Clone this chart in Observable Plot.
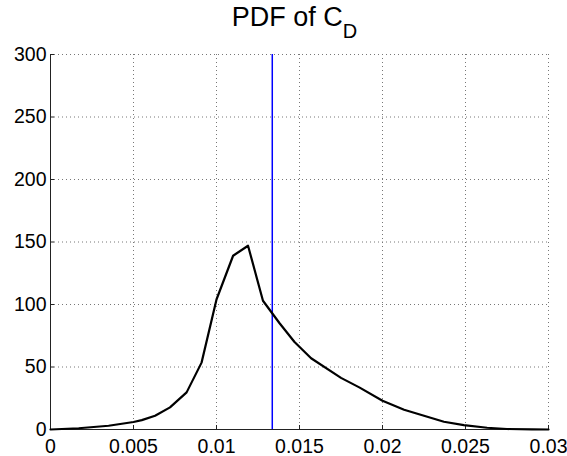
<!DOCTYPE html>
<html>
<head>
<meta charset="utf-8">
<script src="https://cdn.jsdelivr.net/npm/d3@7"></script>
<script src="https://cdn.jsdelivr.net/npm/@observablehq/plot@0.6"></script>
<style>
  html, body { margin: 0; padding: 0; background: #fff; }
  #title { width: 567px; height: 40px; box-sizing: border-box; padding-top: 4px; padding-left: 22px;
           text-align: center; font-family: "Liberation Sans", Arial, sans-serif; font-size: 27px; line-height: 27px; color: #000; }
  #title .sub { font-size: 20px; position: relative; top: 12px; }
  #chart svg { display: block; }
</style>
</head>
<body>
<div id="title">PDF of C<span class="sub">D</span></div>
<div id="chart"></div>
<script>
// Curve samples
const cdValues = [0, 0.0017, 0.0035, 0.005, 0.0055, 0.0063, 0.0072, 0.0082, 0.0091, 0.0100, 0.0110, 0.0119, 0.0128, 0.0138, 0.0147, 0.0157, 0.0175, 0.0186, 0.0200, 0.0213, 0.0225, 0.0237, 0.0249, 0.0263, 0.0275, 0.0290, 0.0300];
const pdfValues = [0, 1, 3, 6, 7.5, 11, 17.7, 29.7, 53.5, 104, 139, 147, 103, 85, 70, 57, 41.3, 33.7, 23, 15.8, 11, 6.2, 3.5, 1.4, 0.4, 0.1, 0];
const meanCD = [0.01336];
const xTicks = [0, 0.005, 0.01, 0.015, 0.02, 0.025, 0.03];
const xTickLabels = ["0", "0.005", "0.01", "0.015", "0.02", "0.025", "0.03"];
const yTicks = [0, 50, 100, 150, 200, 250, 300];
const yTickLabels = ["0", "50", "100", "150", "200", "250", "300"];

const curve = cdValues.map((x, i) => ({x, y: pdfValues[i]}));
const gridStyle = {stroke: "#777", strokeOpacity: 1, strokeDasharray: "1,3", strokeWidth: 1};

const chart = Plot.plot({
  width: 567,
  height: 416,
  marginTop: 14,
  marginBottom: 27,
  marginLeft: 50,
  marginRight: 19,
  style: {fontFamily: "'Liberation Sans', Arial, sans-serif", fontSize: "19.5px", color: "#000", background: "#fff"},
  x: {domain: [0, 0.03]},
  y: {domain: [0, 300]},
  marks: [
    Plot.gridX(xTicks, gridStyle),
    Plot.gridY(yTicks, gridStyle),
    Plot.ruleX([xTicks[0]], {stroke: "#222", strokeWidth: 1}),
    Plot.ruleY([yTicks[0]], {stroke: "#222", strokeWidth: 1}),
    Plot.axisX(xTicks, {tickSize: -4, tickPadding: 14, tickFormat: (d, i) => xTickLabels[i], label: null, stroke: "#222"}),
    Plot.axisY(yTicks, {tickSize: -4, tickPadding: 8, tickFormat: (d, i) => yTickLabels[i], label: null, stroke: "#222"}),
    Plot.ruleX(meanCD, {stroke: "#0000ff", strokeWidth: 1.5}),
    Plot.line(curve, {x: "x", y: "y", stroke: "#000", strokeWidth: 2.2})
  ]
});
document.getElementById("chart").appendChild(chart);
</script>
</body>
</html>
